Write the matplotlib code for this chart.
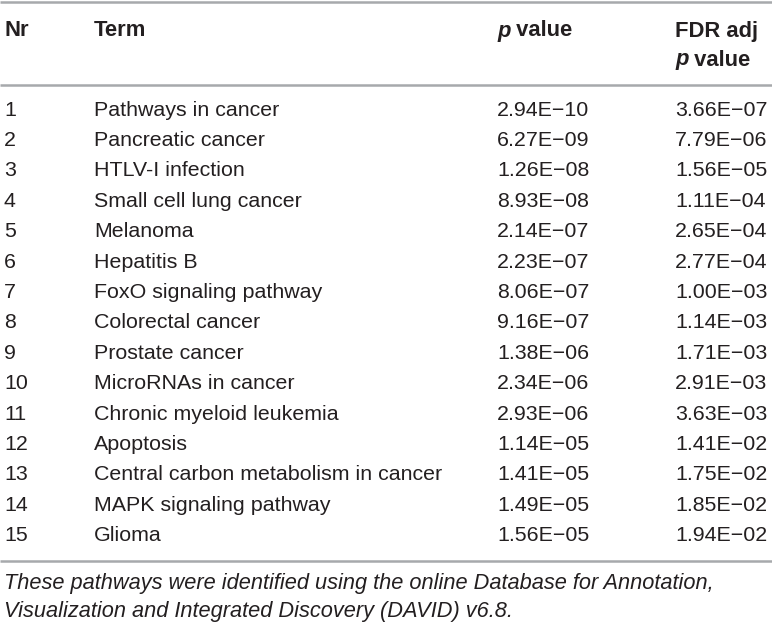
import matplotlib
matplotlib.use("Agg")
import matplotlib.pyplot as plt

# table contents
nr = list(range(1, 16))
terms = ["Pathways in cancer", "Pancreatic cancer", "HTLV-I infection",
         "Small cell lung cancer", "Melanoma", "Hepatitis B",
         "FoxO signaling pathway", "Colorectal cancer", "Prostate cancer",
         "MicroRNAs in cancer", "Chronic myeloid leukemia", "Apoptosis",
         "Central carbon metabolism in cancer", "MAPK signaling pathway", "Glioma"]
p_values = ["2.94E\u221210", "6.27E\u221209", "1.26E\u221208", "8.93E\u221208",
            "2.14E\u221207", "2.23E\u221207", "8.06E\u221207", "9.16E\u221207",
            "1.38E\u221206", "2.34E\u221206", "2.93E\u221206", "1.14E\u221205",
            "1.41E\u221205", "1.49E\u221205", "1.56E\u221205"]
fdr_values = ["3.66E\u221207", "7.79E\u221206", "1.56E\u221205", "1.11E\u221204",
              "2.65E\u221204", "2.77E\u221204", "1.00E\u221203", "1.14E\u221203",
              "1.71E\u221203", "2.91E\u221203", "3.63E\u221203", "1.41E\u221202",
              "1.75E\u221202", "1.85E\u221202", "1.94E\u221202"]
footnote = ["These pathways were identified using the online Database for Annotation,",
            "Visualization and Integrated Discovery (DAVID) v6.8."]

plt.rcParams['font.family'] = ['Liberation Sans', 'DejaVu Sans']
ink = '#231f20'
rule = '#a7a9ac'
fs = 15.4
fs_head = 15.8
fs_note = 15.7

fig = plt.figure(figsize=(7.72, 6.27), dpi=100)
ax = fig.add_axes([0, 0, 1, 1])
ax.set_xlim(0, 772)
ax.set_ylim(627, 0)
ax.axis('off')

col_x = [4, 94, 497, 675]

# horizontal rules
for y in [1.5, 85, 561]:
    ax.plot([0, 772], [y, y], color=rule, lw=1.8, solid_capstyle='butt')


def p_label(x, y):
    # italic "p" followed by bold " value"
    t = ax.text(x, y, "p", fontsize=fs_head, fontweight='bold', style='italic',
                color=ink, va='center')
    fig.canvas.draw()
    x_end = ax.transData.inverted().transform((t.get_window_extent().x1, 0))[0]
    ax.text(x_end, y, " value", fontsize=fs_head, fontweight='bold', color=ink,
            va='center')


# header
h1, h2 = 31, 60
ax.text(col_x[0], h1, "Nr", fontsize=fs_head, fontweight='bold', color=ink, va='center')
ax.text(col_x[1], h1, "Term", fontsize=fs_head, fontweight='bold', color=ink, va='center')
p_label(col_x[2], h1)
ax.text(col_x[3], h1, "FDR adj", fontsize=fs_head, fontweight='bold', color=ink, va='center')
p_label(col_x[3], h2)

# body rows
row0, step = 110, 30.4
for i in range(len(terms)):
    y = row0 + i * step
    ax.text(col_x[0], y, str(nr[i]), fontsize=fs, color=ink, va='center')
    ax.text(col_x[1], y, terms[i], fontsize=fs, color=ink, va='center')
    ax.text(col_x[2], y, p_values[i], fontsize=fs, color=ink, va='center')
    ax.text(col_x[3], y, fdr_values[i], fontsize=fs, color=ink, va='center')

# footnote
for j, line in enumerate(footnote):
    ax.text(col_x[0], 584 + j * 27, line, fontsize=fs_note, style='italic',
            color=ink, va='center')

fig.savefig("out.png", dpi=100)
